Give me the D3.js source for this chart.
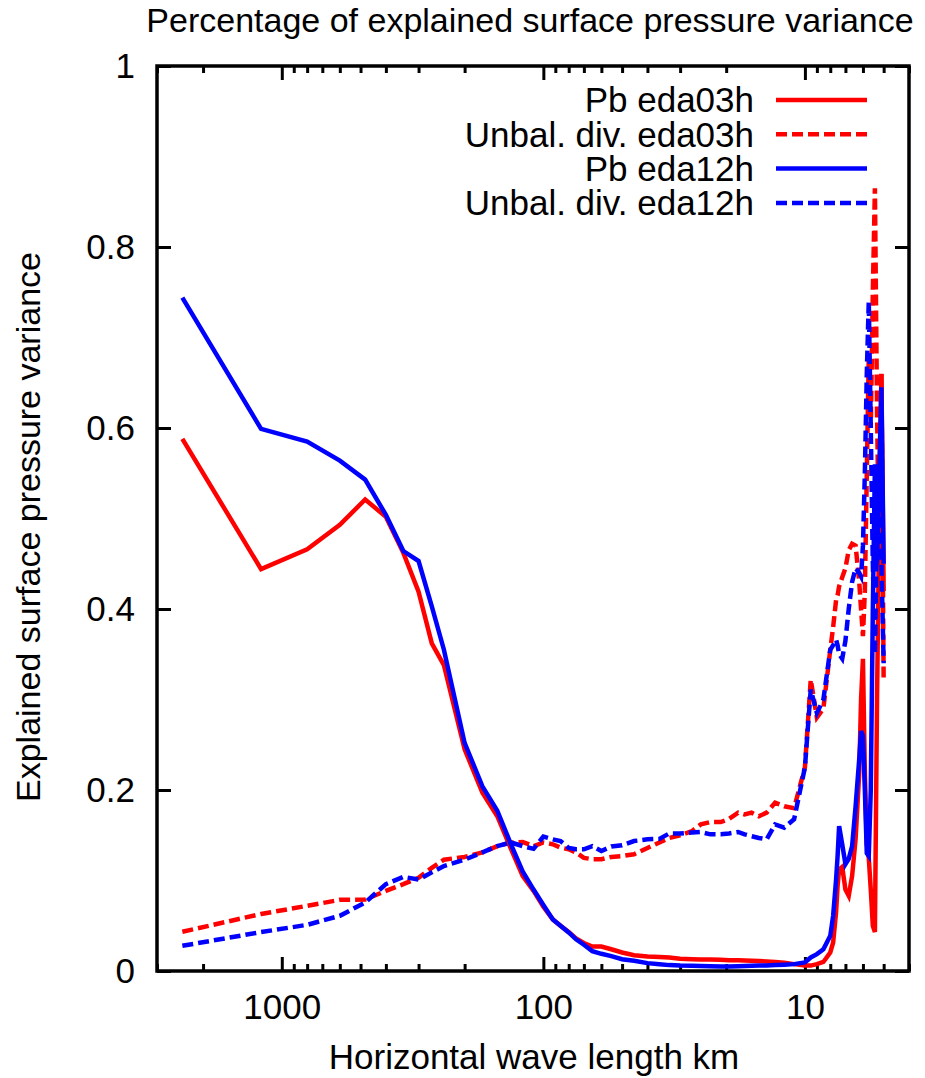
<!DOCTYPE html>
<meta charset="utf-8">
<style>
    body {
        margin: 0;
        background-color: #fff;
    }

    svg text {
        font-family: "Liberation Sans", Arial, Helvetica, sans-serif;
        font-size: 35px;
        fill: #000;
    }

    .axis .domain {
        display: none;
    }

    .axis .tick line {
        stroke: #000;
        stroke-width: 3;
    }

    .serie {
        fill: none;
        stroke-width: 4.5;
    }
</style>
<svg width="925" height="1078"></svg>
<script src="https://cdn.jsdelivr.net/npm/d3@7/dist/d3.min.js"></script>
<script>
    // comprimento de onda (km) comum a todas as series
    var wavelengths = [2400, 1200, 800, 600, 480, 400, 343, 300, 267, 240,
        200, 171, 150, 133, 120, 109, 100, 92, 86, 80, 75, 70, 65, 60, 55, 50,
        45, 40, 36, 33, 30, 27, 25, 23, 21, 19.5, 18, 17, 16, 15, 14, 13, 12, 11,
        10, 9.5, 9, 8.5, 8, 7.8, 7.6, 7.5, 7.4, 7.2, 7.0, 6.8, 6.6, 6.4, 6.2,
        6.1, 6.0, 5.9, 5.8, 5.7, 5.6, 5.5, 5.4, 5.3, 5.2, 5.1, 5.0];

    var pbEda03h = [0.588, 0.444, 0.466, 0.493, 0.521, 0.502, 0.462, 0.419, 0.362, 0.338,
        0.245, 0.197, 0.171, 0.135, 0.105, 0.0885, 0.071, 0.057, 0.050, 0.043, 0.036, 0.031, 0.027, 0.027, 0.024, 0.0205,
        0.0175, 0.016, 0.0155, 0.015, 0.0135, 0.013, 0.0128, 0.0126, 0.0124, 0.012, 0.0118, 0.0115, 0.0113, 0.011, 0.0105, 0.010, 0.009, 0.0076,
        0.006, 0.006, 0.0076, 0.010, 0.0205, 0.0315, 0.065, 0.094, 0.112, 0.115, 0.090, 0.083, 0.105, 0.146, 0.219,
        0.300, 0.345, 0.220, 0.140, 0.125, 0.090, 0.050, 0.043, 0.300, 0.500, 0.660, 0.420];

    var unbalEda03h = [0.0433, 0.063, 0.072, 0.0786, 0.079, 0.0885, 0.096, 0.103, 0.114, 0.123,
        0.126, 0.131, 0.138, 0.142, 0.1425, 0.138, 0.142, 0.140, 0.1363, 0.1345, 0.131, 0.125, 0.1235, 0.1235, 0.126, 0.127,
        0.129, 0.136, 0.142, 0.147, 0.150, 0.1547, 0.162, 0.1646, 0.1646, 0.168, 0.175, 0.173, 0.175, 0.171, 0.175, 0.186, 0.182, 0.180,
        0.225, 0.322, 0.280, 0.290, 0.355, 0.380, 0.410, 0.415, 0.425, 0.435, 0.445, 0.465, 0.472, 0.470, 0.430,
        0.400, 0.370, 0.420, 0.550, 0.680, 0.600, 0.750, 0.865, 0.620, 0.450, 0.660, 0.320];

    var pbEda12h = [0.744, 0.599, 0.585, 0.564, 0.543, 0.504, 0.464, 0.453, 0.403, 0.355,
        0.252, 0.204, 0.177, 0.140, 0.110, 0.090, 0.073, 0.057, 0.050, 0.0426, 0.035, 0.029, 0.022, 0.019, 0.0165, 0.013,
        0.0113, 0.0087, 0.0075, 0.0065, 0.006, 0.0058, 0.0055, 0.0052, 0.005, 0.005, 0.0052, 0.0055, 0.0058, 0.006, 0.0062, 0.0065, 0.007, 0.0076,
        0.0095, 0.015, 0.0186, 0.024, 0.039, 0.061, 0.101, 0.127, 0.160, 0.140, 0.118, 0.124, 0.138, 0.182, 0.234,
        0.265, 0.260, 0.200, 0.130, 0.127, 0.200, 0.400, 0.560, 0.450, 0.550, 0.645, 0.450];

    var unbalEda12h = [0.0278, 0.043, 0.051, 0.061, 0.0757, 0.096, 0.104, 0.101, 0.109, 0.116,
        0.123, 0.131, 0.138, 0.142, 0.138, 0.135, 0.1485, 0.1455, 0.1436, 0.136, 0.1345, 0.1345, 0.138, 0.1326, 0.1375, 0.139,
        0.1436, 0.1455, 0.146, 0.152, 0.152, 0.153, 0.1536, 0.151, 0.151, 0.152, 0.1536, 0.151, 0.149, 0.147, 0.1455, 0.162, 0.1584, 0.1676,
        0.225, 0.311, 0.285, 0.300, 0.355, 0.360, 0.366, 0.360, 0.350, 0.345, 0.365, 0.400, 0.430, 0.445, 0.440,
        0.436, 0.470, 0.550, 0.660, 0.740, 0.600, 0.450, 0.350, 0.500, 0.560, 0.450, 0.340];

    var seriesNames = ["Pb eda03h", "Unbal. div. eda03h", "Pb eda12h", "Unbal. div. eda12h"];
    var seriesColors = ["#ff0000", "#ff0000", "#0000ff", "#0000ff"];
    var seriesDashed = [false, true, false, true];
    var seriesValues = [pbEda03h, unbalEda03h, pbEda12h, unbalEda12h];

    var xMajorTicks = [1000, 100, 10];
    var xMinorTicks = [3000, 2000, 900, 800, 700, 600, 500, 400, 300, 200,
        90, 80, 70, 60, 50, 40, 30, 20, 9, 8, 7, 6, 5, 4];
    var yTicks = [0, 0.2, 0.4, 0.6, 0.8, 1];

    var svg = d3.select("svg"),
        margem = { left: 157, right: 909, top: 66, bottom: 971 };

    var x = d3.scaleLog()
        .domain([3000, 4])
        .range([margem.left, margem.right]);

    var y = d3.scaleLinear()
        .domain([0, 1])
        .range([margem.bottom, margem.top]);

    var formatoY = function (d) { return d === 0 ? "0" : d === 1 ? "1" : d3.format(".1f")(d); };

    // eixos (ticks para dentro, como no gnuplot)
    svg.append("g").attr("class", "axis")
        .attr("transform", "translate(0," + margem.bottom + ")")
        .call(d3.axisBottom(x).tickValues(xMajorTicks).tickSizeInner(-14).tickSizeOuter(0)
            .tickPadding(23).tickFormat(d3.format("d")));
    svg.append("g").attr("class", "axis")
        .attr("transform", "translate(0," + margem.bottom + ")")
        .call(d3.axisBottom(x).tickValues(xMinorTicks).tickSizeInner(-7).tickSizeOuter(0).tickFormat(""));
    svg.append("g").attr("class", "axis")
        .attr("transform", "translate(0," + margem.top + ")")
        .call(d3.axisTop(x).tickValues(xMajorTicks).tickSizeInner(-14).tickSizeOuter(0).tickFormat(""));
    svg.append("g").attr("class", "axis")
        .attr("transform", "translate(0," + margem.top + ")")
        .call(d3.axisTop(x).tickValues(xMinorTicks).tickSizeInner(-7).tickSizeOuter(0).tickFormat(""));
    svg.append("g").attr("class", "axis")
        .attr("transform", "translate(" + margem.left + ",0)")
        .call(d3.axisLeft(y).tickValues(yTicks).tickSizeInner(-14).tickSizeOuter(0)
            .tickPadding(22).tickFormat(formatoY));
    svg.append("g").attr("class", "axis")
        .attr("transform", "translate(" + margem.right + ",0)")
        .call(d3.axisRight(y).tickValues(yTicks).tickSizeInner(-14).tickSizeOuter(0).tickFormat(""));

    svg.selectAll(".axis text").style("font-size", "35px").style("font-family", null);

    // moldura
    svg.append("rect")
        .attr("x", margem.left).attr("y", margem.top)
        .attr("width", margem.right - margem.left)
        .attr("height", margem.bottom - margem.top)
        .attr("fill", "none").attr("stroke", "#000").attr("stroke-width", 3.5);

    var linha = d3.line()
        .x(function (d) { return x(d[0]); })
        .y(function (d) { return y(d[1]); });

    seriesValues.forEach(function (valores, i) {
        var pontos = wavelengths.map(function (w, j) { return [w, valores[j]]; });
        svg.append("path")
            .datum(pontos)
            .attr("class", "serie")
            .attr("stroke", seriesColors[i])
            .attr("stroke-dasharray", seriesDashed[i] ? "11,5" : null)
            .attr("d", linha);
    });

    // legenda
    var legenda = svg.append("g");
    seriesNames.forEach(function (nome, i) {
        var ly = 100 + i * 34.3;
        legenda.append("text")
            .attr("x", 754).attr("y", ly).attr("dy", "0.35em")
            .attr("text-anchor", "end")
            .text(nome);
        legenda.append("line")
            .attr("x1", 776).attr("x2", 867).attr("y1", ly).attr("y2", ly)
            .attr("stroke", seriesColors[i]).attr("stroke-width", 4.5)
            .attr("stroke-dasharray", seriesDashed[i] ? "11,5" : null);
    });

    // titulos
    svg.append("text")
        .attr("x", 530).attr("y", 32)
        .attr("text-anchor", "middle")
        .style("font-size", "34px")
        .text("Percentage of explained surface pressure variance");

    svg.append("text")
        .attr("x", 534).attr("y", 1069)
        .attr("text-anchor", "middle")
        .text("Horizontal wave length km");

    svg.append("text")
        .attr("transform", "translate(40,527) rotate(-90)")
        .attr("text-anchor", "middle")
        .style("font-size", "34px")
        .text("Explained surface pressure variance");
</script>
